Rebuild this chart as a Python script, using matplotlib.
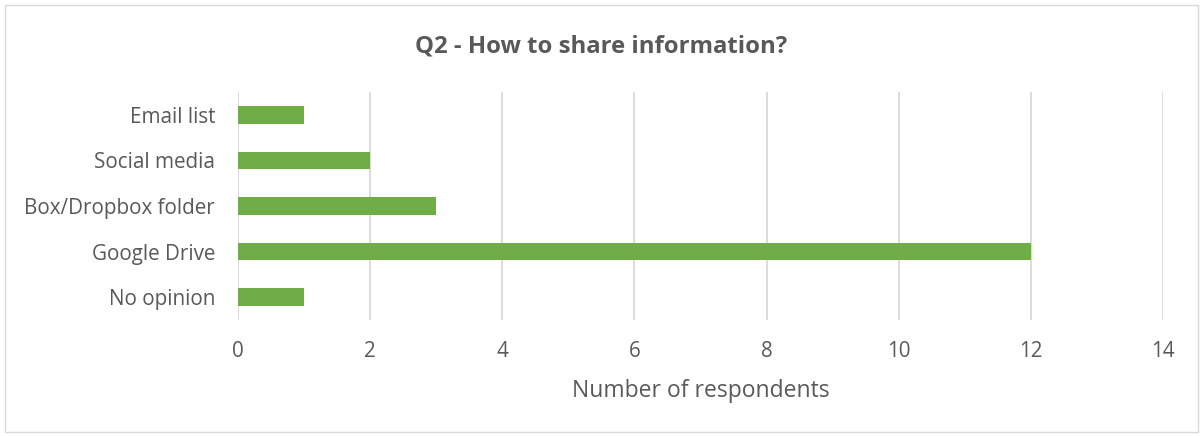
import matplotlib
matplotlib.use("Agg")
import matplotlib.pyplot as plt
from matplotlib.patches import Rectangle

categories = ["Email list", "Social media", "Box/Dropbox folder", "Google Drive", "No opinion"]
respondents = [1, 2, 3, 12, 1]
x_ticks = [0, 2, 4, 6, 8, 10, 12, 14]

plt.rcParams['font.family'] = ['Open Sans', 'DejaVu Sans']
text_color = '#595959'

fig = plt.figure(figsize=(12.03, 4.36), dpi=100)
ax = fig.add_axes([238 / 1203, 1 - 320 / 436, 925 / 1203, 228 / 436])

pos = list(range(len(categories)))
ax.barh(pos, respondents, height=0.39, color='#70AD47', zorder=3)
ax.set_yticks(pos)
ax.set_yticklabels(categories)
ax.set_ylim(len(categories) - 0.5, -0.5)
ax.set_xlim(0, 14)
ax.set_xticks(x_ticks)

ax.grid(axis='x', color='#d9d9d9', linewidth=1.3, zorder=0)
for s in ax.spines.values():
    s.set_visible(False)
ax.tick_params(axis='both', length=0, labelsize=14.9, colors=text_color)
ax.tick_params(axis='y', pad=16.5)
ax.tick_params(axis='x', pad=15)

ax.set_xlabel("Number of respondents", fontsize=16.5, color=text_color, labelpad=12)
fig.text(0.5, 1 - 46 / 436, "Q2 - How to share information?", ha='center', va='center',
         fontsize=17.2, fontweight='bold', color=text_color)

fig.patches.append(Rectangle((5 / 1203, 4 / 436), 1 - 10 / 1203, 1 - 9 / 436,
                             transform=fig.transFigure, fill=False,
                             edgecolor='#d9d9d9', linewidth=1))

fig.savefig("out.png", dpi=100)
